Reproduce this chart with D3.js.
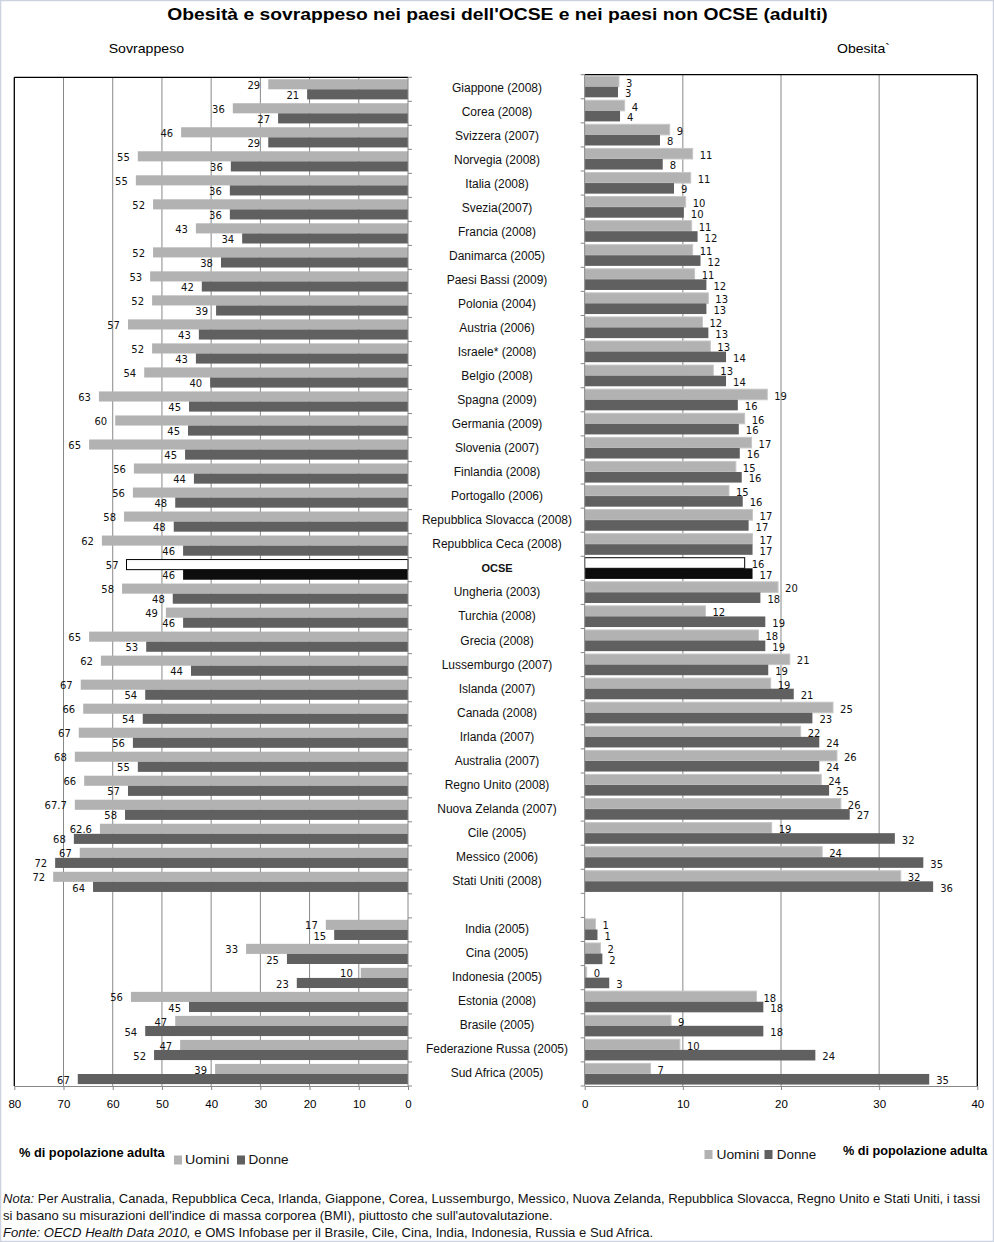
<!DOCTYPE html>
<html><head><meta charset="utf-8">
<script src="https://cdn.jsdelivr.net/npm/d3@7"></script>
<style>body{margin:0;background:#fff}svg{display:block}</style>
</head><body>
<script>
// ---------- DATA ----------
const categories = ["Giappone (2008)","Corea (2008)","Svizzera (2007)","Norvegia (2008)","Italia (2008)","Svezia(2007)","Francia (2008)","Danimarca (2005)","Paesi Bassi (2009)","Polonia (2004)","Austria (2006)","Israele* (2008)","Belgio (2008)","Spagna (2009)","Germania (2009)","Slovenia (2007)","Finlandia (2008)","Portogallo (2006)","Repubblica Slovacca (2008)","Repubblica Ceca (2008)","OCSE","Ungheria (2003)","Turchia (2008)","Grecia (2008)","Lussemburgo (2007)","Islanda (2007)","Canada (2008)","Irlanda (2007)","Australia (2007)","Regno Unito (2008)","Nuova Zelanda (2007)","Cile (2005)","Messico (2006)","Stati Uniti (2008)","","India (2005)","Cina (2005)","Indonesia (2005)","Estonia (2008)","Brasile (2005)","Federazione Russa (2005)","Sud Africa (2005)"];
const highlightCategory = "OCSE";

// Sovrappeso (overweight) - bar lengths
const overweightMen   = [28.4,35.6,46.1,54.9,55.3,51.8,43.1,51.8,52.4,52.0,56.9,52.0,53.6,62.8,59.5,64.8,55.7,55.9,57.7,62.2,57.2,58.1,49.2,64.8,62.4,66.5,66.0,66.9,67.7,65.8,67.7,62.6,66.7,72.1,null,16.7,32.9,9.6,56.3,47.3,46.3,39.2];
const overweightWomen = [20.5,26.4,28.4,36.0,36.2,36.2,33.7,38.0,41.9,39.0,42.5,43.1,40.2,44.5,44.7,45.3,43.5,47.3,47.6,45.7,45.7,47.8,45.7,53.2,44.1,53.4,53.9,55.9,54.9,56.9,57.5,67.9,71.7,64.0,null,15.0,24.6,22.6,44.5,53.4,51.6,67.1];
// Sovrappeso - printed value labels
const overweightMenLabels   = [29,36,46,55,55,52,43,52,53,52,57,52,54,63,60,65,56,56,58,62,57,58,49,65,62,67,66,67,68,66,67.7,62.6,67,72,null,17,33,10,56,47,47,39];
const overweightWomenLabels = [21,27,29,36,36,36,34,38,42,39,43,43,40,45,45,45,44,48,48,46,46,48,46,53,44,54,54,56,55,57,58,68,72,64,null,15,25,23,45,54,52,67];

// Obesità - bar lengths
const obeseMen   = [3.49,4.07,8.66,11.0,10.8,10.29,10.9,11.0,11.2,12.6,12.0,12.8,13.1,18.6,16.3,17.0,15.4,14.7,17.1,17.1,16.3,19.7,12.3,17.7,20.9,18.95,25.3,22.0,25.7,24.1,26.1,19.05,24.2,32.2,null,1.1,1.6,0.2,17.5,8.8,9.7,6.7];
const obeseWomen = [3.39,3.6,7.67,7.95,9.1,10.1,11.5,11.8,12.4,12.4,12.6,14.4,14.4,15.6,15.7,15.8,16.0,16.1,16.7,17.1,17.1,17.9,18.4,18.4,18.7,21.3,23.2,23.9,23.9,24.9,27.0,31.6,34.5,35.5,null,1.3,1.8,2.5,18.2,18.2,23.5,35.1];
// Obesità - printed value labels
const obeseMenLabels   = [3,4,9,11,11,10,11,11,11,13,12,13,13,19,16,17,15,15,17,17,16,20,12,18,21,19,25,22,26,24,26,19,24,32,null,1,2,0,18,9,10,7];
const obeseWomenLabels = [3,4,8,8,9,10,12,12,12,13,13,14,14,16,16,16,16,16,17,17,17,18,19,19,19,21,23,24,24,25,27,32,35,36,null,1,2,3,18,18,24,35];

const ticksOverweight = [80,70,60,50,40,30,20,10,0];
const ticksObese = [0,10,20,30,40];
const seriesNames = ["Uomini","Donne"];

const titleText = "Obesità e sovrappeso nei paesi dell'OCSE e nei paesi non OCSE (adulti)";
const leftHeader = "Sovrappeso";
const rightHeader = "Obesita`";
const axisTitle = "% di popolazione adulta";

// ---------- STYLE ----------
const W = 994, H = 1242;
const C_MEN = "#b2b2b2", C_WOMEN = "#606060", C_GRID = "#888888";
const LABEL_FONT = "'DejaVu Sans', Verdana, sans-serif";
const SANS = "'Liberation Sans', Arial, sans-serif";

const svg = d3.select("body").append("svg").attr("width", W).attr("height", H);
svg.append("rect").attr("x",0.5).attr("y",0.5).attr("width",W-1).attr("height",H-1)
  .attr("fill","#fff").attr("stroke","#cbd3e1").attr("stroke-width",1.5);

function fit(sel, x0, w){
  const bw = sel.node().getBBox().width;
  const k = w / bw;
  sel.attr("transform", `translate(${x0},0) scale(${k},1) translate(${-x0},0)`);
}

const idx = d3.range(categories.length);
const yL = d3.scaleBand().domain(idx).range([77.3, 1086]).padding(0);
const yR = d3.scaleBand().domain(idx).range([74.7, 1086]).padding(0);
const xL = d3.scaleLinear().domain([0,80]).range([408, 14.3]);
const xR = d3.scaleLinear().domain([0,40]).range([584.7, 977.3]);
const bottomY = 1086;

// ---------- TITLE / HEADERS ----------
const t = svg.append("text").attr("x",497.5).attr("y",20).attr("text-anchor","middle")
  .attr("font-family",SANS).attr("font-weight","bold").attr("font-size",16.5).text(titleText);
fit(t, 497.5, 661);
const hl = svg.append("text").attr("x",108.7).attr("y",53).attr("font-family",SANS).attr("font-size",13).text(leftHeader);
fit(hl,108.7,75.5);
const hr = svg.append("text").attr("x",837).attr("y",53).attr("font-family",SANS).attr("font-size",13).text(rightHeader);
fit(hr,837,53);

// ---------- GRIDLINES ----------
const gL = svg.append("g");
gL.selectAll("line").data([10,20,30,40,50,60,70]).join("line")
  .attr("x1",d=>xL(d)).attr("x2",d=>xL(d)).attr("y1",yL.range()[0]).attr("y2",bottomY)
  .attr("stroke",C_GRID).attr("stroke-width",1);
const gR = svg.append("g");
gR.selectAll("line").data([10,20,30]).join("line")
  .attr("x1",d=>xR(d)).attr("x2",d=>xR(d)).attr("y1",yR.range()[0]).attr("y2",bottomY)
  .attr("stroke",C_GRID).attr("stroke-width",1);

// ---------- BARS ----------
function barsLeft(vals, which){
  const off = which===0 ? 0.08 : 0.50, hh = 0.42;
  svg.append("g").selectAll("rect").data(idx.filter(i=>vals[i]!=null)).join("rect")
    .attr("x", i=>xL(vals[i])).attr("width", i=>xL(0)-xL(vals[i]))
    .attr("y", i=>yL(i)+yL.bandwidth()*off).attr("height", yL.bandwidth()*hh)
    .attr("fill", i=> categories[i]===highlightCategory ? (which===0?"#fff":"#0d0d0d") : (which===0?C_MEN:C_WOMEN))
    .attr("stroke", i=> categories[i]===highlightCategory && which===0 ? "#000" : "none")
    .attr("stroke-width",1);
}
function barsRight(vals, which){
  const off = which===0 ? 0.06 : 0.50, hh = 0.44;
  svg.append("g").selectAll("rect").data(idx.filter(i=>vals[i]!=null)).join("rect")
    .attr("x", xR(0)).attr("width", i=>Math.max(0,xR(vals[i])-xR(0)))
    .attr("y", i=>yR(i)+yR.bandwidth()*off).attr("height", yR.bandwidth()*hh)
    .attr("fill", i=> categories[i]===highlightCategory ? (which===0?"#fff":"#0d0d0d") : (which===0?C_MEN:C_WOMEN))
    .attr("stroke", i=> categories[i]===highlightCategory && which===0 ? "#000" : (which===0?"#c6c6c6":"none"))
    .attr("stroke-width",1);
}
barsLeft(overweightMen,0); barsLeft(overweightWomen,1);
barsRight(obeseMen,0); barsRight(obeseWomen,1);

// ---------- FRAMES ----------
svg.append("line").attr("x1",xL(80)).attr("x2",xL(0)).attr("y1",yL.range()[0]).attr("y2",yL.range()[0]).attr("stroke","#000").attr("stroke-width",1.3);
svg.append("line").attr("x1",xL(80)).attr("x2",xL(80)).attr("y1",yL.range()[0]).attr("y2",bottomY).attr("stroke","#000").attr("stroke-width",1.3);
svg.append("line").attr("x1",xR(0)).attr("x2",xR(40)).attr("y1",yR.range()[0]).attr("y2",yR.range()[0]).attr("stroke","#000").attr("stroke-width",1.3);
svg.append("line").attr("x1",xR(40)).attr("x2",xR(40)).attr("y1",yR.range()[0]).attr("y2",bottomY).attr("stroke","#000").attr("stroke-width",1.3);

// category axes (ticks at band boundaries)
svg.append("line").attr("x1",xL(0)).attr("x2",xL(0)).attr("y1",yL.range()[0]).attr("y2",bottomY).attr("stroke",C_GRID);
svg.append("g").selectAll("line").data(d3.range(categories.length+1)).join("line")
  .attr("x1",xL(0)).attr("x2",xL(0)+4).attr("y1",i=>yL.range()[0]+i*yL.step()).attr("y2",i=>yL.range()[0]+i*yL.step())
  .attr("stroke",C_GRID);
svg.append("line").attr("x1",xR(0)).attr("x2",xR(0)).attr("y1",yR.range()[0]).attr("y2",bottomY).attr("stroke",C_GRID);
svg.append("g").selectAll("line").data(d3.range(categories.length+1)).join("line")
  .attr("x1",xR(0)-4).attr("x2",xR(0)).attr("y1",i=>yR.range()[0]+i*yR.step()).attr("y2",i=>yR.range()[0]+i*yR.step())
  .attr("stroke",C_GRID);

// value axes
function styleAxis(g){
  g.select(".domain").attr("stroke",C_GRID);
  g.selectAll(".tick line").attr("stroke",C_GRID);
  g.selectAll(".tick text").attr("font-family",SANS).attr("font-size",11.5).attr("fill","#000");
}
svg.append("g").attr("transform",`translate(0,${bottomY})`)
  .call(d3.axisBottom(xL).tickValues(ticksOverweight).tickSize(4).tickSizeOuter(0).tickPadding(10).tickFormat(d3.format("d")))
  .call(styleAxis);
svg.append("g").attr("transform",`translate(0,${bottomY})`)
  .call(d3.axisBottom(xR).tickValues(ticksObese).tickSize(4).tickSizeOuter(0).tickPadding(10).tickFormat(d3.format("d")))
  .call(styleAxis);

// ---------- VALUE LABELS ----------
function labelsLeft(vals, labs, which){
  const off = which===0 ? 0.08 : 0.50, hh = 0.42;
  svg.append("g").selectAll("text").data(idx.filter(i=>labs[i]!=null)).join("text")
    .attr("x", i=>xL(vals[i])-8).attr("y", i=>yL(i)+yL.bandwidth()*(off+hh/2)+1).attr("dy","0.36em")
    .attr("text-anchor","end").attr("font-family",LABEL_FONT).attr("font-size",10).attr("fill","#111")
    .text(i=>String(labs[i]));
}
function labelsRight(vals, labs, which){
  const off = which===0 ? 0.06 : 0.50, hh = 0.44;
  svg.append("g").selectAll("text").data(idx.filter(i=>labs[i]!=null)).join("text")
    .attr("x", i=>xR(vals[i])+7).attr("y", i=>yR(i)+yR.bandwidth()*(off+hh/2)+1.5).attr("dy","0.36em")
    .attr("text-anchor","start").attr("font-family",LABEL_FONT).attr("font-size",10).attr("fill","#111")
    .text(i=>String(labs[i]));
}
labelsLeft(overweightMen, overweightMenLabels, 0);
labelsLeft(overweightWomen, overweightWomenLabels, 1);
labelsRight(obeseMen, obeseMenLabels, 0);
labelsRight(obeseWomen, obeseWomenLabels, 1);

// ---------- CATEGORY LABELS ----------
svg.append("g").selectAll("text").data(idx.filter(i=>categories[i]!=="")).join("text")
  .attr("x",497).attr("y",i=>yL(i)+yL.bandwidth()/2-1.5).attr("dy","0.36em")
  .attr("text-anchor","middle").attr("font-family",SANS)
  .attr("font-size",i=>categories[i]===highlightCategory?11:12)
  .attr("font-weight",i=>categories[i]===highlightCategory?"bold":"normal")
  .attr("fill","#111").text(i=>categories[i]);

// ---------- LEGENDS ----------
function legend(titleX, titleY, titleW, items){
  const tt = svg.append("text").attr("x",titleX).attr("y",titleY).attr("font-family",SANS)
    .attr("font-weight","bold").attr("font-size",12.5).text(axisTitle);
  fit(tt, titleX, titleW);
  items.forEach(it=>{
    svg.append("rect").attr("x",it.sx).attr("y",it.sy).attr("width",8).attr("height",9).attr("fill",it.c);
    const lt = svg.append("text").attr("x",it.tx).attr("y",it.ty).attr("font-family",SANS)
      .attr("font-size",12.5).attr("fill","#111").text(it.name);
    fit(lt, it.tx, it.tw);
  });
}
legend(19, 1157, 147, [
  {name:seriesNames[0], c:C_MEN, sx:174, sy:1155.5, tx:185, ty:1164.5, tw:44.5},
  {name:seriesNames[1], c:C_WOMEN, sx:237, sy:1155.5, tx:248.6, ty:1164.5, tw:40}
]);
legend(843, 1155, 145.5, [
  {name:seriesNames[0], c:C_MEN, sx:704.5, sy:1150, tx:716.5, ty:1159, tw:43},
  {name:seriesNames[1], c:C_WOMEN, sx:764.5, sy:1150, tx:776.8, ty:1159, tw:39.5}
]);

// ---------- NOTES ----------
const n1 = svg.append("text").attr("x",3).attr("y",1203.5).attr("font-family",SANS).attr("font-size",12).attr("fill","#111");
n1.append("tspan").attr("font-style","italic").text("Nota:");
n1.append("tspan").text("  Per Australia, Canada, Repubblica Ceca, Irlanda, Giappone, Corea, Lussemburgo, Messico, Nuova Zelanda, Repubblica Slovacca, Regno Unito e Stati Uniti, i tassi");
fit(n1, 3, 978);
const n2 = svg.append("text").attr("x",3).attr("y",1220.5).attr("font-family",SANS).attr("font-size",12).attr("fill","#111")
  .text("si basano su misurazioni dell'indice di massa corporea (BMI), piuttosto che sull'autovalutazione.");
fit(n2, 3, 550.5);
const n3 = svg.append("text").attr("x",3).attr("y",1237).attr("font-family",SANS).attr("font-size",12).attr("fill","#111");
n3.append("tspan").attr("font-style","italic").text("Fonte: OECD Health Data 2010,");
n3.append("tspan").text("  e OMS Infobase per il Brasile, Cile, Cina, India, Indonesia, Russia e Sud Africa.");
fit(n3, 3, 651);
</script>
</body></html>
